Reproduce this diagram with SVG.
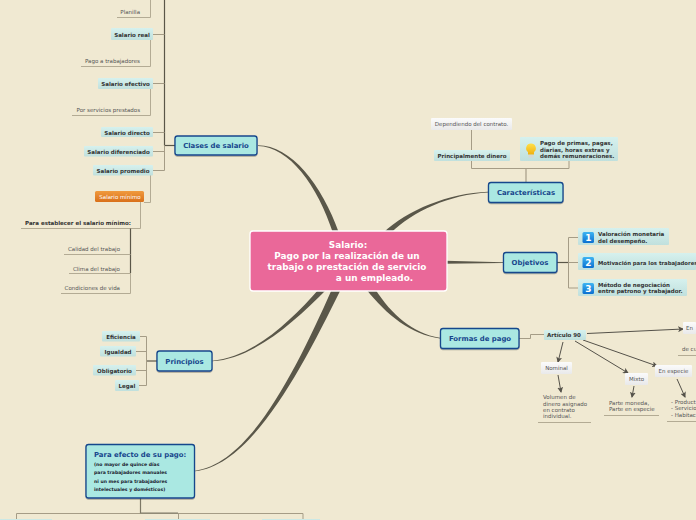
<svg xmlns="http://www.w3.org/2000/svg" width="696" height="520" viewBox="0 0 696 520">
<style>
text{font-family:"DejaVu Sans",sans-serif}
.l{fill:none;stroke:#a59c86;stroke-width:1}
.d{fill:none;stroke:#5a5648;stroke-width:1.2}
.u{fill:none;stroke:#b3ab94;stroke-width:1}
.a{fill:none;stroke:#55524a;stroke-width:1;marker-end:url(#ah)}
.c{fill:#5a5749}
.n{fill:#aae8e2;stroke:#17468c;stroke-width:1.300;filter:url(#sh)}
.nt{fill:#17468c;font-size:6.9px;font-weight:bold;text-anchor:middle}
.p{fill:url(#pg)}
.w{fill:url(#wg)}
.b{fill:#333;font-size:5.5px;font-weight:bold}
.m{text-anchor:middle}
.g{fill:#555;font-size:5.5px}
.ic{fill:url(#ig)}
.it{fill:#fff;font-size:9px;font-weight:bold;text-anchor:middle}
</style>
<defs>
<filter id="sh" x="-10%" y="-15%" width="120%" height="135%"><feDropShadow dx="0" dy="1" stdDeviation="0.6" flood-color="#000" flood-opacity="0.3"/></filter>
<linearGradient id="pg" x1="0" y1="0" x2="0" y2="1"><stop offset="0" stop-color="#d6f1ee"/><stop offset="1" stop-color="#c0e0dd"/></linearGradient>
<linearGradient id="wg" x1="0" y1="0" x2="0" y2="1"><stop offset="0" stop-color="#fbfbfb"/><stop offset="1" stop-color="#e9e9ea"/></linearGradient>
<linearGradient id="og" x1="0" y1="0" x2="0" y2="1"><stop offset="0" stop-color="#f09a3e"/><stop offset="1" stop-color="#d9701a"/></linearGradient>
<linearGradient id="ig" x1="0" y1="0" x2="0" y2="1"><stop offset="0" stop-color="#3db4f2"/><stop offset="1" stop-color="#0b6fd0"/></linearGradient>
<linearGradient id="bg" x1="0" y1="0" x2="0" y2="1"><stop offset="0" stop-color="#ffe04a"/><stop offset="1" stop-color="#f0b010"/></linearGradient>
<marker id="ah" markerWidth="6" markerHeight="6" refX="5" refY="3" orient="auto" markerUnits="userSpaceOnUse"><path d="M0 0L6 3L0 6L1.5 3Z" fill="#55524a"/></marker>
</defs>
<rect width="696" height="520" fill="#f0e9d2"/>
<g id="connectors">
<path class="c" d="M258 145.200C291 145.300 322 184.500 339 233L333 233C318 186 289 146.300 258 145.900Z"/>
<path class="c" d="M488 191.700C449 193 407 210 383 233L391 233C412 211.500 450 194.300 488 192.400Z"/>
<path class="c" d="M445 260.800L503 262.200L503 262.900L445 263.800Z"/>
<path class="c" d="M440 337.800C412 333 392 315 375 289L366 289C387 315.500 411 334.500 440 338.400Z"/>
<path class="c" d="M212 360.700C252 358 291 321 319 289L327 289C294 322.500 253.500 358.600 212 361.300Z"/>
<path class="c" d="M195 470.700C250 464 297 368 332 289L341 289C301 370.500 251.500 465 195 471.300Z"/>
<path class="d" d="M175 145.500H164.500"/>
<path class="d" d="M164.500 0V145.500"/>
<path class="l" d="M164.500 145.500V170.500H153M164.500 34.500H153M164.500 83.500H153M164.500 132.500H153M164.500 151.500H153"/>
<path class="u" d="M150.500 0V17.500H117M150.500 40V66.500H81M150.500 89V115.500H72M150.500 175V202.500H144"/>
<path class="u" d="M140.500 202V228.500H21"/>
<path class="d" d="M130.500 228.500V273"/>
<path class="u" d="M130.500 273V293.500H61M130.500 254.500H64M130.500 273.500H69"/>
<path class="d" d="M157 361H146.500"/>
<path class="l" d="M146.500 336.500V385.500M140 336.500H146.500M136 351.500H146.500M136 370.500H146.500M139 385.500H146.500"/>
<path class="l" d="M16.500 520V513.500H303V520M178.500 513.500V520"/>
<path class="d" d="M140.500 498V513H178" style="stroke:#7d7866"/>
<path class="l" d="M526 182V169" style="stroke-width:1.200"/>
<path class="l" d="M471.500 130V168.500H569V161"/>
<path class="d" d="M557 262.500H568.500"/>
<path class="l" d="M578 237.500H568.500V288H578M568.500 262.500H578"/>
<path class="l" d="M519 338.500H530.500V334.500H544"/>
<path class="a" d="M587 333.500L683 329"/>
<path class="a" d="M563 342L558 362"/>
<path class="a" d="M575 341L628 373"/>
<path class="a" d="M583 340L657 366"/>
<path class="a" d="M558 375L561 392"/>
<path class="a" d="M634 386L632 397"/>
<path class="a" d="M677 379L685 397"/>
<path class="u" d="M538 422.500H591M604 415.500H659M667 421.500H696M678 355.500H696"/>
</g>
<g id="bottom-edges"><rect class="p" x="0" y="519" width="52" height="1"/><rect class="p" x="145" y="519" width="65" height="1"/><rect class="p" x="262" y="519" width="58" height="1"/></g>
<g id="central"><rect x="250" y="231" width="197" height="60" rx="3" fill="#ea6899" stroke="#fff" stroke-width="1.300"/>
<text fill="#fff" font-size="8.900" font-weight="bold" text-anchor="middle"><tspan x="348" y="248">Salario:</tspan><tspan x="347" y="259">Pago por la realización de un</tspan><tspan x="347" y="270">trabajo o prestación de servicio</tspan><tspan x="374.500" y="281">a un empleado.</tspan></text></g>
<g id="clases"><rect class="n" x="175" y="136" width="82" height="19" rx="2.500"/><text class="nt" x="216" y="148">Clases de salario</text></g>
<g id="caracteristicas"><rect class="n" x="488.500" y="182.500" width="74.500" height="20" rx="2.500"/><text class="nt" x="526" y="195">Características</text></g>
<g id="objetivos"><rect class="n" x="503.500" y="252.500" width="53.500" height="20" rx="2.500"/><text class="nt" x="530" y="265">Objetivos</text></g>
<g id="formas"><rect class="n" x="440.500" y="328.500" width="78.500" height="20" rx="2.500"/><text class="nt" x="480" y="341">Formas de pago</text></g>
<g id="principios"><rect class="n" x="157" y="351" width="55" height="20" rx="2.500"/><text class="nt" x="184.500" y="364">Principios</text></g>
<g id="efecto"><rect class="n" x="86" y="444.500" width="108.500" height="53.500" rx="2.500"/><text class="nt" x="94" y="457" style="text-anchor:start">Para efecto de su pago:</text>
<text fill="#1a1a2e" font-size="4.600" font-weight="bold"><tspan x="94" y="466">(no mayor de quince días</tspan><tspan x="94" y="474">para trabajadores manuales</tspan><tspan x="94" y="483">ni un mes para trabajadores</tspan><tspan x="94" y="491">intelectuales y domésticos)</tspan></text></g>
<g id="planilla"><text class="g" x="140" y="14" text-anchor="end">Planilla</text></g>
<g id="real"><rect class="p" x="111" y="28" width="42" height="12" rx="1"/><text class="b m" x="132" y="37">Salario real</text></g>
<g id="pago"><text class="g" x="140" y="63" text-anchor="end">Pago a trabajadores</text></g>
<g id="efectivo"><rect class="p" x="98" y="78" width="55" height="11" rx="1"/><text class="b m" x="125.500" y="86">Salario efectivo</text></g>
<g id="servicios"><text class="g" x="140" y="112" text-anchor="end">Por servicios prestados</text></g>
<g id="directo"><rect class="p" x="101" y="127" width="52" height="10" rx="1"/><text class="b m" x="127" y="135">Salario directo</text></g>
<g id="diferenciado"><rect class="p" x="84" y="146" width="69" height="10.500" rx="1"/><text class="b m" x="118.500" y="154">Salario diferenciado</text></g>
<g id="promedio"><rect class="p" x="93" y="165" width="60" height="10.500" rx="1"/><text class="b m" x="123" y="173">Salario promedio</text></g>
<g id="minimo"><rect x="95" y="191" width="49" height="11" rx="1.500" fill="url(#og)"/><text x="120" y="199" fill="#fff" font-size="5.500" text-anchor="middle">Salario mínimo</text></g>
<g id="establecer"><text class="b" x="25" y="224.500">Para establecer el salario mínimo:</text></g>
<g id="calidad"><text class="g" x="120" y="250.500" text-anchor="end">Calidad del trabajo</text></g>
<g id="clima"><text class="g" x="120" y="270.500" text-anchor="end">Clima del trabajo</text></g>
<g id="condiciones"><text class="g" x="120" y="289.500" text-anchor="end">Condiciones de vida</text></g>
<g id="eficiencia"><rect class="p" x="102" y="331" width="38" height="10.500" rx="1"/><text class="b m" x="121" y="339">Eficiencia</text></g>
<g id="igualdad"><rect class="p" x="100" y="346" width="36" height="10.500" rx="1"/><text class="b m" x="118" y="354">Igualdad</text></g>
<g id="obligatorio"><rect class="p" x="93" y="365" width="43" height="10.500" rx="1"/><text class="b m" x="114.500" y="373">Obligatorio</text></g>
<g id="legal"><rect class="p" x="115" y="380" width="24" height="11" rx="1"/><text class="b m" x="127" y="388">Legal</text></g>
<g id="dependiendo"><rect class="w" x="431" y="118" width="81" height="12" rx="1"/><text class="g m" x="471.500" y="126">Dependiendo del contrato.</text></g>
<g id="dinero"><rect class="p" x="434" y="150" width="76" height="11" rx="1"/><text class="b m" x="472" y="158">Principalmente dinero</text></g>
<g id="primas"><rect class="p" x="520" y="137" width="98" height="24" rx="1"/>
<path d="M531 143.500a4.800 4.800 0 0 1 3 8.600v2.400h-6v-2.400a4.800 4.800 0 0 1 3-8.600Z" fill="url(#bg)"/><rect x="528.500" y="155" width="5" height="2.500" fill="#d8d8d0"/>
<text class="b"><tspan x="540" y="145">Pago de primas, pagas,</tspan><tspan x="540" y="152">diarias, horas extras y</tspan><tspan x="540" y="158">demás remuneraciones.</tspan></text></g>
<g id="obj1"><rect class="p" x="578" y="228" width="91" height="17" rx="1"/><rect class="ic" x="582.500" y="232" width="11.500" height="11" rx="1.500"/><text class="it" x="588.500" y="241">1</text><text class="b"><tspan x="598" y="236">Valoración monetaria</tspan><tspan x="598" y="243">del desempeño.</tspan></text></g>
<g id="obj2"><rect class="p" x="578" y="253" width="118" height="17" rx="1"/><rect class="ic" x="582.500" y="257" width="11.500" height="11" rx="1.500"/><text class="it" x="588.500" y="266">2</text><text class="b" x="598" y="265" style="font-size:5.350px">Motivación para los trabajadores</text></g>
<g id="obj3"><rect class="p" x="578" y="279" width="109" height="17" rx="1"/><rect class="ic" x="582.500" y="283" width="11.500" height="11" rx="1.500"/><text class="it" x="588.500" y="292">3</text><text class="b"><tspan x="598" y="287">Método de negociación</tspan><tspan x="598" y="293">entre patrono y trabajador.</tspan></text></g>
<g id="articulo"><rect class="p" x="544" y="330" width="42" height="10" rx="1"/><text class="b m" x="564" y="337">Artículo 90</text></g>
<g id="nominal"><rect class="w" x="541" y="362" width="31" height="12" rx="1"/><text class="g m" x="556.500" y="370">Nominal</text></g>
<g id="volumen"><text class="g"><tspan x="543" y="399">Volumen de</tspan><tspan x="543" y="405.500">dinero asignado</tspan><tspan x="543" y="412">en contrato</tspan><tspan x="543" y="418">individual.</tspan></text></g>
<g id="mixto"><rect class="w" x="625" y="373" width="23" height="12" rx="1"/><text class="g m" x="636.500" y="381">Mixto</text></g>
<g id="parte"><text class="g"><tspan x="609" y="405">Parte moneda,</tspan><tspan x="609" y="411">Parte en especie</tspan></text></g>
<g id="especie"><rect class="w" x="655" y="365" width="37" height="12" rx="1"/><text class="g m" x="673.500" y="373">En especie</text></g>
<g id="productos"><text class="g"><tspan x="671" y="404">- Product</tspan><tspan x="671" y="410">- Servicio</tspan><tspan x="671" y="417">- Habitac</tspan></text></g>
<g id="en"><rect class="w" x="683" y="322" width="13" height="12" rx="1"/><text class="g" x="686" y="330">En</text></g>
<g id="decu"><text class="g" x="682" y="351">de cu</text></g>
</svg>
